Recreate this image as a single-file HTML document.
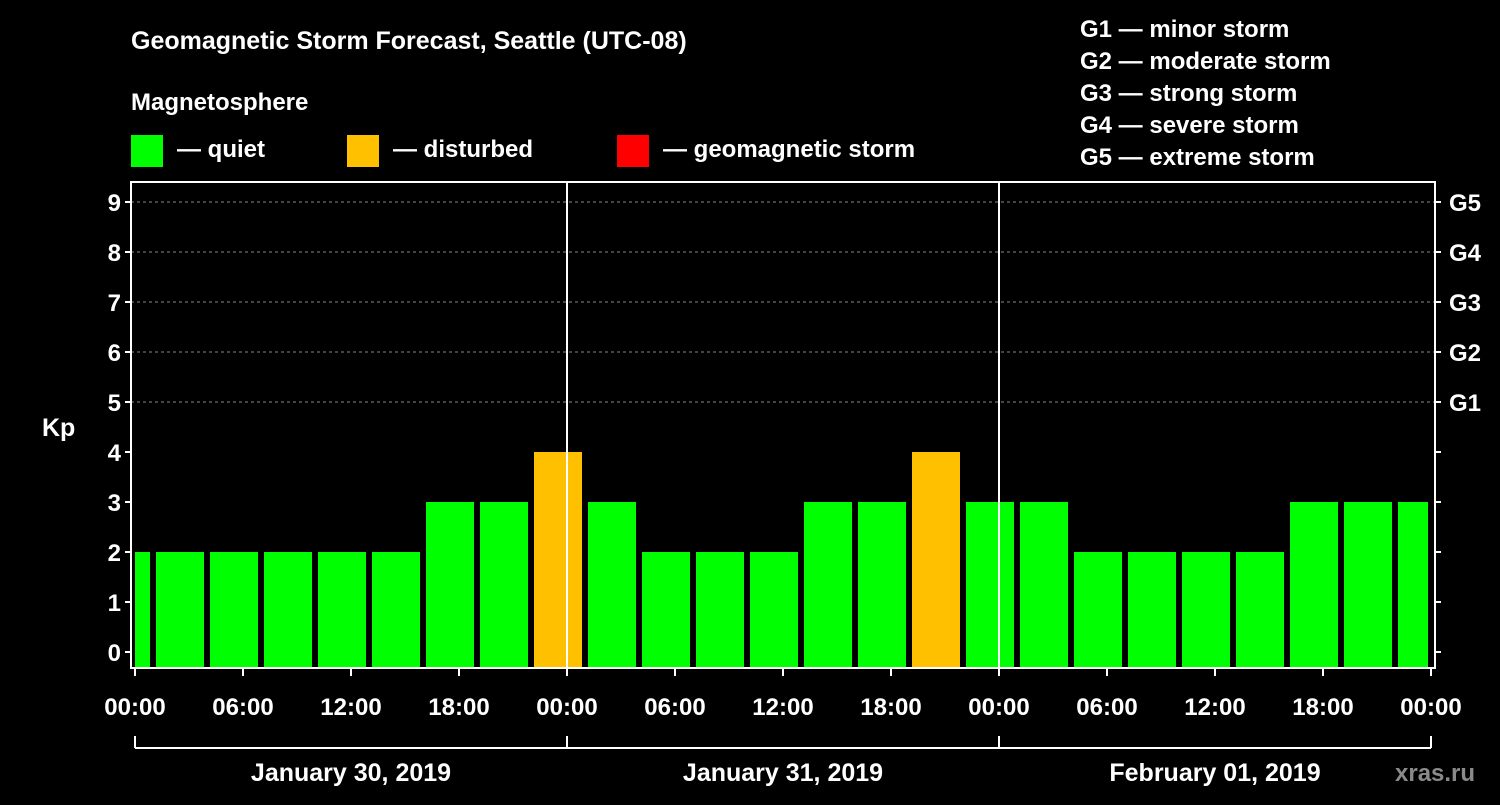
<!DOCTYPE html>
<html><head><meta charset="utf-8"><style>
body{margin:0;background:#000;}
svg text{font-family:"Liberation Sans",Arial,sans-serif;font-weight:bold;fill:#fff;}
</style></head><body>
<svg id="chart" width="1500" height="800" viewBox="0 0 1500 800" xmlns="http://www.w3.org/2000/svg">
<rect width="1500" height="800" fill="#000"/>
<text x="131" y="49" font-size="25">Geomagnetic Storm Forecast, Seattle (UTC-08)</text>
<text x="131" y="110" font-size="24">Magnetosphere</text>
<g><rect x="131" y="135" width="32" height="32" fill="#00ff00"/><text x="177" y="157" font-size="24">— quiet</text></g>
<g><rect x="347" y="135" width="32" height="32" fill="#ffc000"/><text x="393" y="157" font-size="24">— disturbed</text></g>
<g><rect x="617" y="135" width="32" height="32" fill="#ff0000"/><text x="663" y="157" font-size="24">— geomagnetic storm</text></g>
<g font-size="24">
<text x="1080" y="37">G1 — minor storm</text>
<text x="1080" y="69">G2 — moderate storm</text>
<text x="1080" y="101">G3 — strong storm</text>
<text x="1080" y="133">G4 — severe storm</text>
<text x="1080" y="165">G5 — extreme storm</text>
</g>
<text x="42" y="436" font-size="25">Kp</text>
<g id="grid"></g><g id="bars"></g><g id="axes"></g>
<text x="1395" y="781" font-size="24" fill="#888" style="fill:#8a8a8a">xras.ru</text>
</svg>
<script>
const kpValues=[2,2,2,2,2,2,3,3,4,3,2,2,2,3,3,4,3,3,2,2,2,2,3,3,3];
const barStartHours=[-2,1,4,7,10,13,16,19,22,25,28,31,34,37,40,43,46,49,52,55,58,61,64,67,70];
const xTickLabels=["00:00","06:00","12:00","18:00","00:00","06:00","12:00","18:00","00:00","06:00","12:00","18:00","00:00"];
const dayLabels=["January 30, 2019","January 31, 2019","February 01, 2019"];
const gLabels=["G1","G2","G3","G4","G5"];
const yTicks=[0,1,2,3,4,5,6,7,8,9];
const NS="http://www.w3.org/2000/svg";
const X0=135,PXH=18,TOTAL=72,PLOT_T=182,PLOT_B=668,L=131,R=1435;
const x=h=>X0+h*PXH;
const y=v=>652-50*v;
function mk(tag,attrs,parent,txt){const e=document.createElementNS(NS,tag);for(const k in attrs)e.setAttribute(k,attrs[k]);if(txt!==undefined)e.textContent=txt;parent.appendChild(e);return e;}
const grid=document.getElementById('grid'),bars=document.getElementById('bars'),axes=document.getElementById('axes');
for(let v=5;v<=9;v++){const l=mk('line',{x1:L,x2:R,y1:y(v),y2:y(v),stroke:'#888','stroke-dasharray':'3,3','stroke-width':1},grid);

}
kpValues.forEach((v,i)=>{
 const s=Math.max(barStartHours[i],0),e=Math.min(barStartHours[i]+3,TOTAL);
 let x1=x(barStartHours[i])+3,x2=x(barStartHours[i]+3)-3;
 x1=Math.max(x1,x(0));x2=Math.min(x2,x(TOTAL)-3);
 const col=v>=5?'#ff0000':(v>=4?'#ffc000':'#00ff00');
 const r=mk('rect',{x:x1,y:y(v),width:x2-x1,height:PLOT_B-y(v),fill:col},bars);
 
 
});
// day separators
[24,48].forEach(h=>{const l=mk('line',{x1:x(h),x2:x(h),y1:PLOT_T,y2:PLOT_B,stroke:'#fff','stroke-width':2},axes);

});
const frame=mk('rect',{x:L,y:PLOT_T,width:R-L,height:PLOT_B-PLOT_T,fill:'none',stroke:'#fff','stroke-width':2},axes);


yTicks.forEach(v=>{
 mk('line',{x1:L-6,x2:L,y1:y(v),y2:y(v),stroke:'#fff','stroke-width':2},axes);
 mk('line',{x1:R,x2:R+6,y1:y(v),y2:y(v),stroke:'#fff','stroke-width':2},axes);
 const t=mk('text',{x:L-10,y:y(v)+9,'font-size':24,'text-anchor':'end'},axes,String(v));
 
 
});
gLabels.forEach((g,i)=>{const t=mk('text',{x:1449,y:y(5+i)+9,'font-size':24},axes,g);

});
xTickLabels.forEach((lab,i)=>{
 const h=i*6;
 mk('line',{x1:x(h),x2:x(h),y1:PLOT_B,y2:PLOT_B+8,stroke:'#fff','stroke-width':2},axes);
 const t=mk('text',{x:x(h),y:715,'font-size':24,'text-anchor':'middle'},axes,lab);
 
 
});
mk('line',{x1:x(0),x2:x(TOTAL),y1:748,y2:748,stroke:'#fff','stroke-width':2},axes);
[0,24,48,72].forEach(h=>mk('line',{x1:x(h),x2:x(h),y1:736,y2:748,stroke:'#fff','stroke-width':2},axes));
dayLabels.forEach((d,i)=>{const t=mk('text',{x:x(i*24+12),y:781,'font-size':25,'text-anchor':'middle'},axes,d);

});
</script>
</body></html>
